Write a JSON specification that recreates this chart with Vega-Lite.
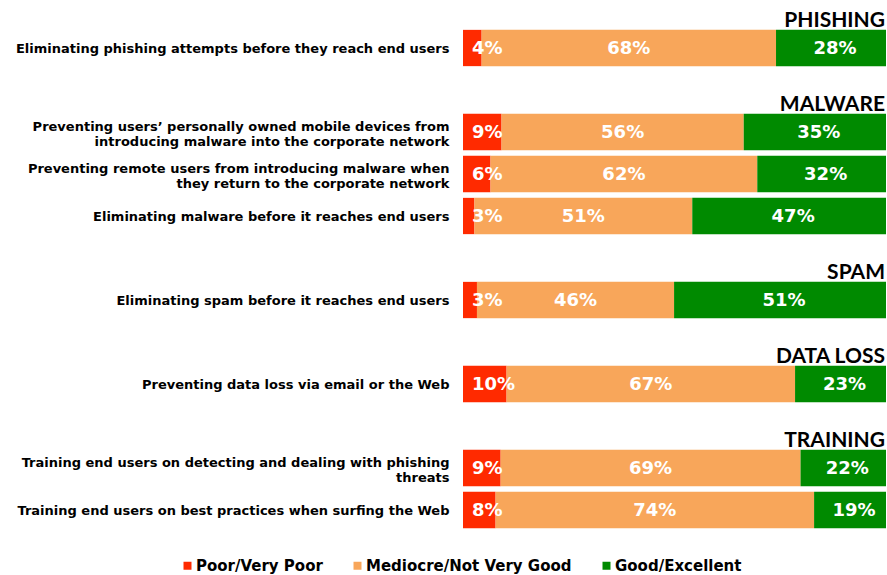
{
  "$schema": "https://vega.github.io/schema/vega-lite/v6.json",
  "width": 423,
  "height": 504,
  "autosize": "none",
  "padding": {"left": 463, "top": 27, "right": 1, "bottom": 44},
  "background": "white",
  "config": {"view": {"stroke": null}},
  "datasets": {
    "ratings": [
      {"item": "Eliminating phishing attempts before they reach end users", "rating": "Poor/Very Poor", "share": 4.4, "label": "4%"},
      {"item": "Eliminating phishing attempts before they reach end users", "rating": "Mediocre/Not Very Good", "share": 69.6, "label": "68%"},
      {"item": "Eliminating phishing attempts before they reach end users", "rating": "Good/Excellent", "share": 26.0, "label": "28%"},
      {"item": "Preventing users’ personally owned mobile devices from|introducing malware into the corporate network", "rating": "Poor/Very Poor", "share": 9.1, "label": "9%"},
      {"item": "Preventing users’ personally owned mobile devices from|introducing malware into the corporate network", "rating": "Mediocre/Not Very Good", "share": 57.2, "label": "56%"},
      {"item": "Preventing users’ personally owned mobile devices from|introducing malware into the corporate network", "rating": "Good/Excellent", "share": 33.6, "label": "35%"},
      {"item": "Preventing remote users from introducing malware when|they return to the corporate network", "rating": "Poor/Very Poor", "share": 6.5, "label": "6%"},
      {"item": "Preventing remote users from introducing malware when|they return to the corporate network", "rating": "Mediocre/Not Very Good", "share": 63.0, "label": "62%"},
      {"item": "Preventing remote users from introducing malware when|they return to the corporate network", "rating": "Good/Excellent", "share": 30.4, "label": "32%"},
      {"item": "Eliminating malware before it reaches end users", "rating": "Poor/Very Poor", "share": 2.7, "label": "3%"},
      {"item": "Eliminating malware before it reaches end users", "rating": "Mediocre/Not Very Good", "share": 51.5, "label": "51%"},
      {"item": "Eliminating malware before it reaches end users", "rating": "Good/Excellent", "share": 45.8, "label": "47%"},
      {"item": "Eliminating spam before it reaches end users", "rating": "Poor/Very Poor", "share": 3.3, "label": "3%"},
      {"item": "Eliminating spam before it reaches end users", "rating": "Mediocre/Not Very Good", "share": 46.6, "label": "46%"},
      {"item": "Eliminating spam before it reaches end users", "rating": "Good/Excellent", "share": 50.1, "label": "51%"},
      {"item": "Preventing data loss via email or the Web", "rating": "Poor/Very Poor", "share": 10.3, "label": "10%"},
      {"item": "Preventing data loss via email or the Web", "rating": "Mediocre/Not Very Good", "share": 68.2, "label": "67%"},
      {"item": "Preventing data loss via email or the Web", "rating": "Good/Excellent", "share": 21.5, "label": "23%"},
      {"item": "Training end users on detecting and dealing with phishing|threats", "rating": "Poor/Very Poor", "share": 8.9, "label": "9%"},
      {"item": "Training end users on detecting and dealing with phishing|threats", "rating": "Mediocre/Not Very Good", "share": 70.9, "label": "69%"},
      {"item": "Training end users on detecting and dealing with phishing|threats", "rating": "Good/Excellent", "share": 20.2, "label": "22%"},
      {"item": "Training end users on best practices when surfing the Web", "rating": "Poor/Very Poor", "share": 7.7, "label": "8%"},
      {"item": "Training end users on best practices when surfing the Web", "rating": "Mediocre/Not Very Good", "share": 75.3, "label": "74%"},
      {"item": "Training end users on best practices when surfing the Web", "rating": "Good/Excellent", "share": 17.0, "label": "19%"}
    ],
    "sections": [
      {"section": "PHISHING", "item": "Eliminating phishing attempts before they reach end users"},
      {"section": "MALWARE", "item": "Preventing users’ personally owned mobile devices from|introducing malware into the corporate network"},
      {"section": "SPAM", "item": "Eliminating spam before it reaches end users"},
      {"section": "DATA LOSS", "item": "Preventing data loss via email or the Web"},
      {"section": "TRAINING", "item": "Training end users on detecting and dealing with phishing|threats"}
    ]
  },
  "layer": [
    {
      "data": {"name": "ratings"},
      "transform": [
        {"calculate": "indexof(['Poor/Very Poor','Mediocre/Not Very Good','Good/Excellent'], datum.rating)", "as": "order"},
        {"stack": "share", "groupby": ["item"], "sort": [{"field": "order", "order": "ascending"}], "as": ["s0", "s1"], "offset": "normalize"},
        {"calculate": "(datum.s0 + datum.s1) / 2", "as": "mid"}
      ],
      "layer": [
        {
          "mark": {"type": "bar"},
          "encoding": {
            "y": {
              "field": "item", "type": "nominal",
              "scale": {
                "domain": [
                  "Eliminating phishing attempts before they reach end users",
                  "_1",
                  "Preventing users’ personally owned mobile devices from|introducing malware into the corporate network",
                  "Preventing remote users from introducing malware when|they return to the corporate network",
                  "Eliminating malware before it reaches end users",
                  "_2",
                  "Eliminating spam before it reaches end users",
                  "_3",
                  "Preventing data loss via email or the Web",
                  "_4",
                  "Training end users on detecting and dealing with phishing|threats",
                  "Training end users on best practices when surfing the Web"
                ],
                "paddingInner": 0.136,
                "paddingOuter": 0.068
              },
              "axis": {
                "title": null,
                "domain": false,
                "ticks": false,
                "labelPadding": 14,
                "labelFont": "DejaVu Sans",
                "labelFontWeight": "bold",
                "labelFontSize": 13,
                "labelColor": "#000000",
                "labelLimit": 0,
                "labelLineHeight": 15,
                "labelOffset": {"condition": {"test": "indexof(datum.value, '|') >= 0", "value": -5}, "value": 1},
                "labelExpr": "indexof(datum.value, '_') === 0 ? '' : split(datum.value, '|')"
              }
            },
            "x": {"field": "s0", "type": "quantitative", "scale": {"domain": [0, 1], "nice": false, "zero": true}, "axis": null},
            "x2": {"field": "s1"},
            "color": {
              "field": "rating", "type": "nominal",
              "scale": {
                "domain": ["Poor/Very Poor", "Mediocre/Not Very Good", "Good/Excellent"],
                "range": ["#FF2A00", "#F8A65A", "#008A00"]
              },
              "legend": {
                "title": null,
                "orient": "none",
                "direction": "horizontal",
                "legendX": -283,
                "legendY": 531,
                "padding": 0,
                "symbolType": "square",
                "symbolSize": 64,
                "symbolStrokeWidth": 0,
                "labelFont": "DejaVu Sans",
                "labelFontWeight": "bold",
                "labelFontSize": 15,
                "labelColor": "#000000",
                "labelOffset": 1,
                "columnPadding": 27,
                "labelLimit": 0
              }
            }
          }
        },
        {
          "transform": [{"filter": "datum.rating === 'Poor/Very Poor'"}],
          "mark": {"type": "text", "align": "left", "baseline": "middle", "dx": 9, "dy": 1, "font": "DejaVu Sans", "fontWeight": "bold", "fontSize": 18, "color": "white"},
          "encoding": {
            "y": {"field": "item", "type": "nominal"},
            "x": {"field": "s0", "type": "quantitative"},
            "text": {"field": "label"}
          }
        },
        {
          "transform": [{"filter": "datum.rating === 'Mediocre/Not Very Good'"}],
          "mark": {"type": "text", "align": "center", "baseline": "middle", "dy": 1, "font": "DejaVu Sans", "fontWeight": "bold", "fontSize": 18, "color": "white"},
          "encoding": {
            "y": {"field": "item", "type": "nominal"},
            "x": {"field": "mid", "type": "quantitative"},
            "text": {"field": "label"}
          }
        },
        {
          "transform": [{"filter": "datum.rating === 'Good/Excellent'"}],
          "mark": {"type": "text", "align": "center", "baseline": "middle", "dx": 4, "dy": 1, "font": "DejaVu Sans", "fontWeight": "bold", "fontSize": 18, "color": "white"},
          "encoding": {
            "y": {"field": "item", "type": "nominal"},
            "x": {"field": "mid", "type": "quantitative"},
            "text": {"field": "label"}
          }
        }
      ]
    },
    {
      "data": {"name": "sections"},
      "mark": {"type": "text", "align": "right", "baseline": "alphabetic", "dx": -1, "dy": -21, "font": "Lato", "fontWeight": "bold", "fontSize": 21, "color": "#000000"},
      "encoding": {
        "y": {"field": "item", "type": "nominal"},
        "x": {"datum": 1, "type": "quantitative"},
        "text": {"field": "section"}
      }
    }
  ]
}
